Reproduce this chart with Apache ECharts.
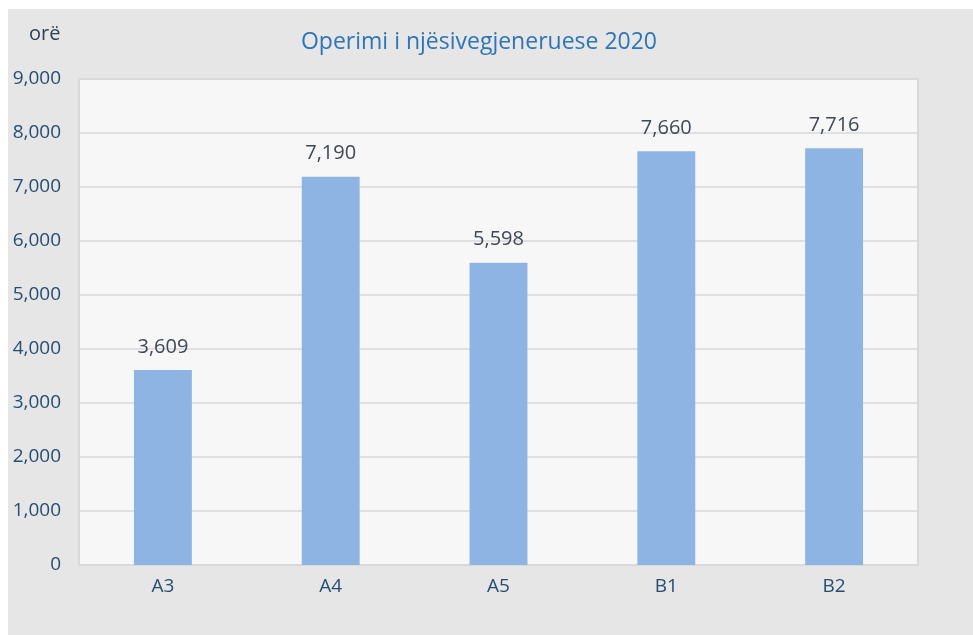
<!DOCTYPE html>
<html><head><meta charset="utf-8">
<script src="https://cdn.jsdelivr.net/npm/echarts@6/dist/echarts.min.js"></script>
<style>html,body{margin:0;padding:0;background:#fff}#c{position:absolute;left:8px;top:9px;width:965px;height:626px;background:#e6e6e6}</style>
</head><body><div id="c"></div>
<script>
const categories = ['A3','A4','A5','B1','B2'];
const values = [3609, 7190, 5598, 7660, 7716];
const titleText = 'Operimi i njësivegjeneruese 2020';
const unitLabel = 'orë';
const chart = echarts.init(document.getElementById('c'));
const font = '"Open Sans", "Noto Sans", sans-serif';
chart.setOption({
  backgroundColor: '#e6e6e6',
  animation: false,
  title: {text: titleText, left: 466, top: 17, textAlign: 'center',
    textStyle: {color: '#2e75b6', fontSize: 23, fontWeight: 'normal', fontFamily: font}},
  graphic: [{type: 'text', left: 21, top: 15, style: {text: unitLabel, fill: '#333f50', fontSize: 20, fontFamily: font}}],
  grid: {left: 71, top: 70, right: 55, bottom: 70, show: true, backgroundColor: '#f7f7f7', borderColor: '#d9d9d9', borderWidth: 2},
  xAxis: {type: 'category', data: categories,
    axisLine: {show: false}, axisTick: {show: false},
    axisLabel: {color: '#264d73', fontSize: 19, margin: 12, fontFamily: font}},
  yAxis: {type: 'value', min: 0, max: 9000, interval: 1000,
    axisLine: {show: false}, axisTick: {show: false},
    splitLine: {lineStyle: {color: '#d9d9d9', width: 1.5}},
    axisLabel: {color: '#264d73', fontSize: 19, margin: 18, fontFamily: font,
      formatter: v => v.toLocaleString('en-US')}},
  series: [{type: 'bar', data: values, barWidth: '34.5%',
    itemStyle: {color: '#8eb4e3'},
    label: {show: true, position: 'top', distance: 13, color: '#404855', fontSize: 20, fontFamily: font,
      formatter: p => p.value.toLocaleString('en-US')}}]
});
</script></body></html>
